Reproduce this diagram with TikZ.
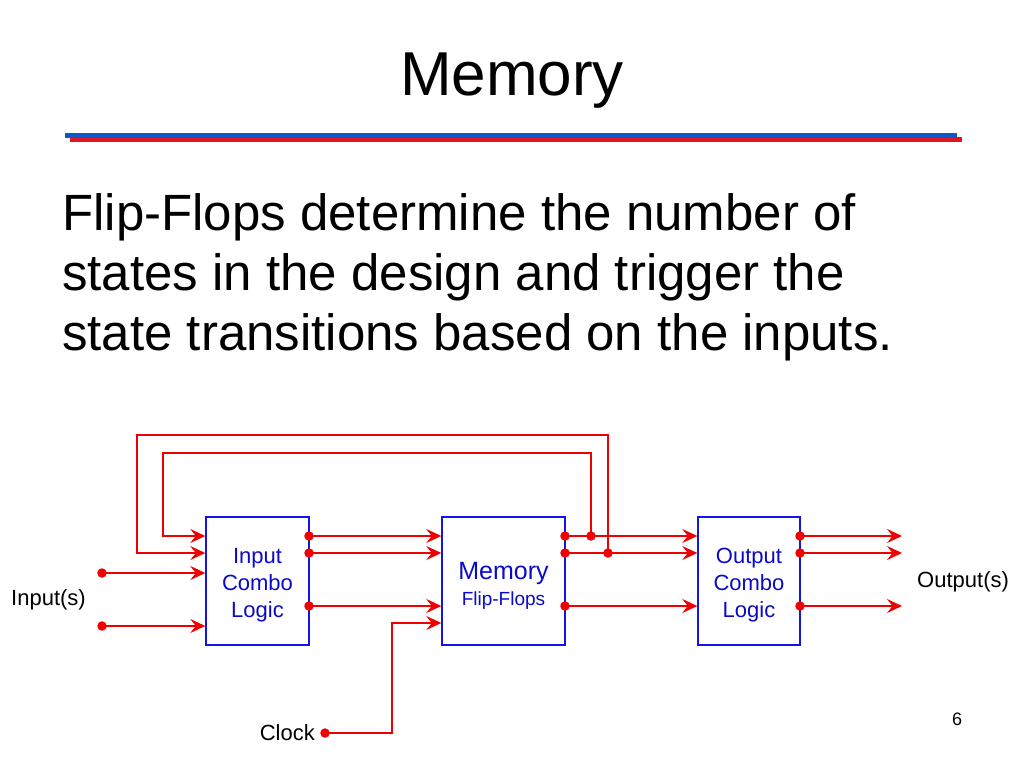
\documentclass[tikz,border=0pt]{standalone}
\usepackage{fontspec}
\setmainfont{Liberation Sans}
\usetikzlibrary{arrows.meta}
\definecolor{wirered}{RGB}{240,0,0}
\definecolor{boxblue}{RGB}{20,20,230}
\definecolor{txtblue}{RGB}{10,10,200}
\definecolor{barblue}{RGB}{10,90,200}
\definecolor{barred}{RGB}{225,20,35}
\tikzset{
  box/.style={draw=boxblue, line width=1.4pt, minimum width=103pt, minimum height=128pt, inner sep=0pt},
  boxtxt/.style={inner sep=0pt, align=center, text=txtblue, font=\fontsize{22}{27}\selectfont},
  wire/.style={draw=wirered, line width=1.6pt},
  arr/.style={wire, -{Stealth[length=15pt,width=14pt,inset=5.5pt]}},
  dotc/.style={circle, fill=wirered, inner sep=0pt, minimum size=9.5pt},
  lbl/.style={font=\fontsize{22}{26}\selectfont, inner sep=0pt},
}
\begin{document}
\begin{tikzpicture}[x=1pt,y=-1pt]
\useasboundingbox[fill=white] (0,0) rectangle (1024,768);
% title
\node[anchor=base, inner sep=0pt, font=\fontsize{62}{70}\selectfont] (title) at (512,95) {Memory};
\fill[barred] (70,137) rectangle (962,141.5);
\fill[barblue] (65,132.5) rectangle (957,137.5);
% body text
\node[anchor=base west, inner sep=0pt, font=\fontsize{51}{60}\selectfont] (t1) at (62,230) {Flip-Flops determine the number of};
\node[anchor=base west, inner sep=0pt, font=\fontsize{51}{60}\selectfont] (t2) at (62,290) {states in the design and trigger the};
\node[anchor=base west, inner sep=0pt, font=\fontsize{51}{60}\selectfont] (t3) at (62,350) {state transitions based on the inputs.};
% boxes
\node[box] (icl) at (257.5,581) {};
\node[box, minimum width=123pt] (mem) at (503.5,581) {};
\node[box, minimum width=102pt] (ocl) at (749,581) {};
\node[boxtxt] (icltxt) at (257.5,585) {Input\\Combo\\Logic};
\node[boxtxt, font=\fontsize{25}{27}\selectfont] (memtxt) at (503.5,586) {Memory\\[-1pt]{\fontsize{19}{22}\selectfont Flip-Flops}};
\node[boxtxt] (ocltxt) at (749,585) {Output\\Combo\\Logic};
% labels
\node[lbl, anchor=east] (inlbl) at (86,600) {Input(s)};
\node[lbl, anchor=west] (outlbl) at (917,582) {Output(s)};
\node[lbl, anchor=east] (clklbl) at (315,733) {Clock};
\node[anchor=base, inner sep=0pt, font=\fontsize{18}{20}\selectfont] (pg) at (957,725) {6};
% input dots
\node[dotc] (ia) at (102,573) {};
\node[dotc] (ib) at (102,626) {};
\draw[arr] (ia.center) -- (ia.center -| icl.west);
\draw[arr] (ib.center) -- (ib.center -| icl.west);
% input combo outputs
\node[dotc] (i1) at (309,536) {};
\node[dotc] (i2) at (309,553) {};
\node[dotc] (i3) at (309,606) {};
\draw[arr] (i1.center) -- (i1.center -| mem.west);
\draw[arr] (i2.center) -- (i2.center -| mem.west);
\draw[arr] (i3.center) -- (i3.center -| mem.west);
% clock
\node[dotc] (clk) at (325,733) {};
\coordinate (cb) at (392,733);
\coordinate (ct) at (392,623);
\draw[arr] (clk.center) -- (cb) -- (ct) -- (ct -| mem.west);
% memory outputs
\node[dotc] (m1) at (565,536) {};
\node[dotc] (m2) at (565,553) {};
\node[dotc] (m3) at (565,606) {};
\draw[arr] (m1.center) -- (m1.center -| ocl.west);
\draw[arr] (m2.center) -- (m2.center -| ocl.west);
\draw[arr] (m3.center) -- (m3.center -| ocl.west);
% feedback
\node[dotc] (f1) at (591,536) {};
\node[dotc] (f2) at (608,553) {};
\coordinate (f1t) at (591,453);
\coordinate (f1l) at (163,453);
\coordinate (f1b) at (163,536);
\coordinate (f2t) at (608,435);
\coordinate (f2l) at (137,435);
\coordinate (f2b) at (137,553);
\draw[arr] (f1.center) -- (f1t) -- (f1l) -- (f1b) -- (f1b -| icl.west);
\draw[arr] (f2.center) -- (f2t) -- (f2l) -- (f2b) -- (f2b -| icl.west);
% output combo outputs
\node[dotc] (o1) at (800,536) {};
\node[dotc] (o2) at (800,553) {};
\node[dotc] (o3) at (800,606) {};
\coordinate (e1) at (902,536);
\coordinate (e2) at (902,553);
\coordinate (e3) at (902,606);
\draw[arr] (o1.center) -- (e1);
\draw[arr] (o2.center) -- (e2);
\draw[arr] (o3.center) -- (e3);
\end{tikzpicture}
\end{document}
